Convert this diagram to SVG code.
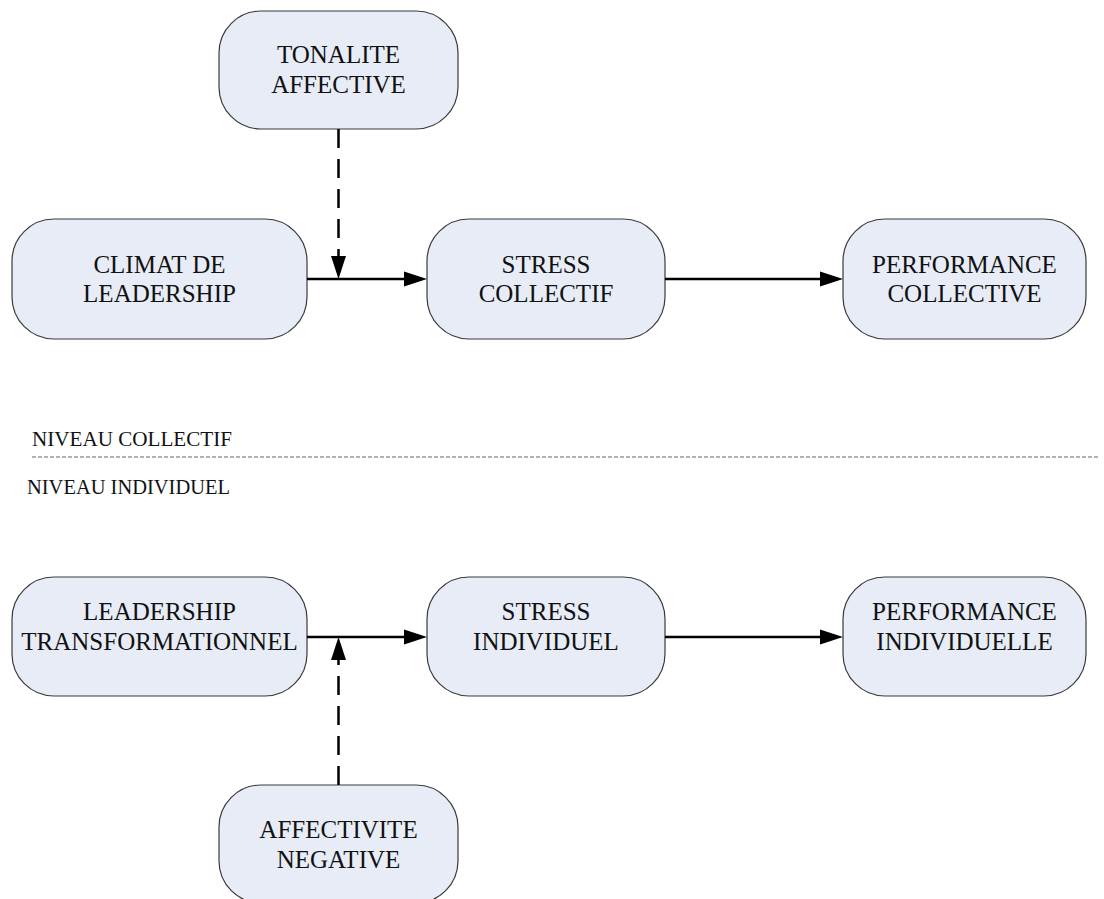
<svg xmlns="http://www.w3.org/2000/svg" width="1104" height="899" viewBox="0 0 1104 899">
<style>
.box{fill:#e7ecf6;stroke:#3a3a3a;stroke-width:1.2}
.lbl{font-family:"Liberation Serif","Times New Roman",serif;font-size:25px;fill:#111;text-anchor:middle}
.lvl{font-family:"Liberation Serif","Times New Roman",serif;font-size:20px;fill:#111}
.solid{stroke:#000;stroke-width:2.5;fill:none}
.dash{stroke:#000;stroke-width:2.5;fill:none;stroke-dasharray:19,11}
.head{fill:#000}
</style>
<rect width="1104" height="899" fill="#fff"/>
<g id="tonalite">
<rect class="box" x="219" y="11" width="239" height="118" rx="42"/>
<text class="lbl" x="338.5" y="63">TONALITE</text>
<text class="lbl" x="338.5" y="93">AFFECTIVE</text>
</g>
<g id="climat">
<rect class="box" x="12" y="219" width="295" height="120" rx="42"/>
<text class="lbl" x="159.5" y="273">CLIMAT DE</text>
<text class="lbl" x="159.5" y="302">LEADERSHIP</text>
</g>
<g id="stress-collectif">
<rect class="box" x="427" y="219" width="238" height="120" rx="42"/>
<text class="lbl" x="546" y="273">STRESS</text>
<text class="lbl" x="546" y="302">COLLECTIF</text>
</g>
<g id="perf-collective">
<rect class="box" x="843" y="219" width="243" height="120" rx="42"/>
<text class="lbl" x="964.5" y="273">PERFORMANCE</text>
<text class="lbl" x="964.5" y="302">COLLECTIVE</text>
</g>
<g id="niveaux">
<text class="lvl" x="32" y="446" textLength="200" lengthAdjust="spacingAndGlyphs">NIVEAU COLLECTIF</text>
<line x1="32" y1="457" x2="1100" y2="457" stroke="#666" stroke-width="1" stroke-dasharray="4,2"/>
<text class="lvl" x="27" y="494" textLength="203" lengthAdjust="spacingAndGlyphs">NIVEAU INDIVIDUEL</text>
</g>
<g id="leadership-transfo">
<rect class="box" x="12" y="577" width="295" height="119" rx="42"/>
<text class="lbl" x="159.5" y="620">LEADERSHIP</text>
<text class="lbl" x="159.5" y="650">TRANSFORMATIONNEL</text>
</g>
<g id="stress-individuel">
<rect class="box" x="427" y="577" width="238" height="119" rx="42"/>
<text class="lbl" x="546" y="620">STRESS</text>
<text class="lbl" x="546" y="650">INDIVIDUEL</text>
</g>
<g id="perf-individuelle">
<rect class="box" x="843" y="577" width="243" height="119" rx="42"/>
<text class="lbl" x="964.5" y="620">PERFORMANCE</text>
<text class="lbl" x="964.5" y="650">INDIVIDUELLE</text>
</g>
<g id="affectivite">
<rect class="box" x="219" y="785" width="239" height="118" rx="42"/>
<text class="lbl" x="338.5" y="838">AFFECTIVITE</text>
<text class="lbl" x="338.5" y="868">NEGATIVE</text>
</g>
<g id="connectors">
<line class="solid" x1="307" y1="279" x2="405" y2="279"/>
<polygon class="head" points="427,279 404,271.5 404,286.5"/>
<line class="solid" x1="665" y1="279" x2="821" y2="279"/>
<polygon class="head" points="843,279 820,271.5 820,286.5"/>
<line class="dash" x1="338.5" y1="129" x2="338.5" y2="258"/>
<polygon class="head" points="338.5,279 331,256 346,256"/>
<line class="solid" x1="307" y1="637" x2="405" y2="637"/>
<polygon class="head" points="427,637 404,629.5 404,644.5"/>
<line class="solid" x1="665" y1="637" x2="821" y2="637"/>
<polygon class="head" points="843,637 820,629.5 820,644.5"/>
<line class="dash" x1="338.5" y1="785" x2="338.5" y2="658"/>
<polygon class="head" points="338.5,637 331,660 346,660"/>
</g>
</svg>
